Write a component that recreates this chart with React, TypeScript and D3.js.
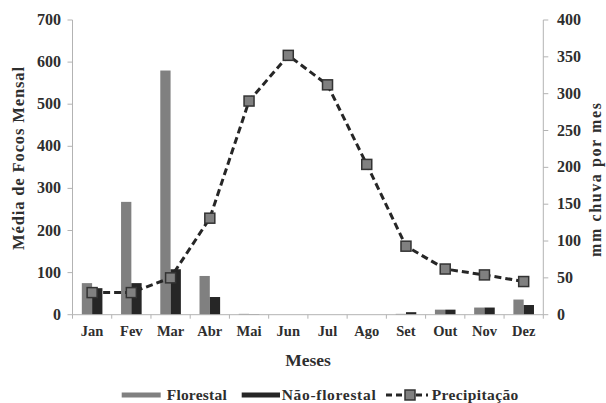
import React from "react";
import * as d3 from "d3";

const months = ["Jan", "Fev", "Mar", "Abr", "Mai", "Jun", "Jul", "Ago", "Set", "Out", "Nov", "Dez"];
const florestal = [75, 268, 580, 92, 2, 0, 0, 0, 2, 12, 17, 36];
const naoFlorestal = [63, 75, 108, 42, 1, 0, 0, 0, 6, 12, 17, 23];
const precipitacao = [30, 30, 50, 131, 290, 352, 312, 204, 93, 62, 54, 45];
const leftTicks = [0, 100, 200, 300, 400, 500, 600, 700];
const rightTicks = [0, 50, 100, 150, 200, 250, 300, 350, 400];

const W = 606;
const H = 403;
const L = 72.5;
const R = 543.3;
const T = 20;
const B = 314.7;
const font = "Liberation Serif";
const textColor = "#2e2e2e";
const axisColor = "#b3b3b3";

export default function App() {
  const x = d3.scaleBand<string>().domain(months).range([L, R]).padding(0);
  const yL = d3.scaleLinear().domain([0, 700]).range([B, T]);
  const yR = d3.scaleLinear().domain([0, 400]).range([B, T]);
  const sub = d3.scaleBand<string>().domain(["f", "n"]).range([0, 20.6]);
  const bw = x.bandwidth();
  const cx = (m: string) => (x(m) as number) + bw / 2;
  const line = d3
    .line<number>()
    .x((_, i) => cx(months[i]))
    .y((d) => yR(d));

  return (
    <svg width={W} height={H} style={{ position: "absolute", left: 0, top: 0 }} fontFamily={font} fontWeight="bold">
      <rect width={W} height={H} fill="#fff" />
      {months.map((m, i) => (
        <g key={m}>
          <rect
            x={cx(m) - 10.3 + (sub("f") as number)}
            y={yL(florestal[i])}
            width={sub.bandwidth()}
            height={B - yL(florestal[i])}
            fill="#808080"
          />
          <rect
            x={cx(m) - 10.3 + (sub("n") as number)}
            y={yL(naoFlorestal[i])}
            width={sub.bandwidth()}
            height={B - yL(naoFlorestal[i])}
            fill="#262626"
          />
        </g>
      ))}
      <line x1={L} x2={L} y1={T} y2={B} stroke={axisColor} strokeWidth={1} />
      <line x1={R} x2={R} y1={T} y2={B} stroke={axisColor} strokeWidth={1} />
      <line x1={L} x2={R} y1={B} y2={B} stroke={axisColor} strokeWidth={1} />
      {leftTicks.map((t) => (
        <g key={"l" + t}>
          <line x1={L - 5} x2={L} y1={yL(t)} y2={yL(t)} stroke={axisColor} />
          <text x={61} y={yL(t) + 5} textAnchor="end" fontSize={16} fill={textColor}>
            {t}
          </text>
        </g>
      ))}
      {rightTicks.map((t) => (
        <g key={"r" + t}>
          <line x1={R} x2={R + 5} y1={yR(t)} y2={yR(t)} stroke={axisColor} />
          <text x={557} y={yR(t) + 5} textAnchor="start" fontSize={16} fill={textColor}>
            {t}
          </text>
        </g>
      ))}
      {months.map((m) => (
        <line key={"xt" + m} x1={x(m) as number} x2={x(m) as number} y1={B} y2={B + 4} stroke={axisColor} />
      ))}
      <line x1={R} x2={R} y1={B} y2={B + 4} stroke={axisColor} />
      {months.map((m) => (
        <text key={"xl" + m} x={cx(m)} y={336} textAnchor="middle" fontSize={14.5} fill={textColor}>
          {m}
        </text>
      ))}
      <path d={line(precipitacao) || ""} fill="none" stroke="#262626" strokeWidth={3} strokeDasharray="7 4" />
      {precipitacao.map((v, i) => (
        <rect
          key={"p" + i}
          x={cx(months[i]) - 5}
          y={yR(v) - 5}
          width={10}
          height={10}
          fill="#808080"
          stroke="#333"
          strokeWidth={1.5}
        />
      ))}
      <text x={308} y={366} textAnchor="middle" fontSize={17.5} fill={textColor}>
        Meses
      </text>
      <text
        transform="translate(24,158.5) rotate(-90)"
        textAnchor="middle"
        fontSize={16.5}
        fill={textColor}
        textLength={183}
        lengthAdjust="spacing"
      >
        Média de Focos Mensal
      </text>
      <text
        transform="translate(601,180) rotate(-90)"
        textAnchor="middle"
        fontSize={16}
        fill={textColor}
        textLength={154}
        lengthAdjust="spacing"
      >
        mm chuva por mes
      </text>
      <rect x={121.7} y={392.5} width={39} height={5} fill="#808080" />
      <text x={166.7} y={400} fontSize={15.5} fill={textColor} textLength={60} lengthAdjust="spacing">
        Florestal
      </text>
      <rect x={241.7} y={392.5} width={38.3} height={5} fill="#262626" />
      <text x={281.7} y={400} fontSize={15.5} fill={textColor} textLength={94} lengthAdjust="spacing">
        Não-florestal
      </text>
      <line x1={386} x2={428} y1={395} y2={395} stroke="#262626" strokeWidth={3} strokeDasharray="6 4" />
      <rect x={405} y={390} width={10} height={10} fill="#808080" stroke="#333" strokeWidth={1.5} />
      <text x={431.7} y={400} fontSize={15.5} fill={textColor} textLength={86.6} lengthAdjust="spacing">
        Precipitação
      </text>
    </svg>
  );
}
